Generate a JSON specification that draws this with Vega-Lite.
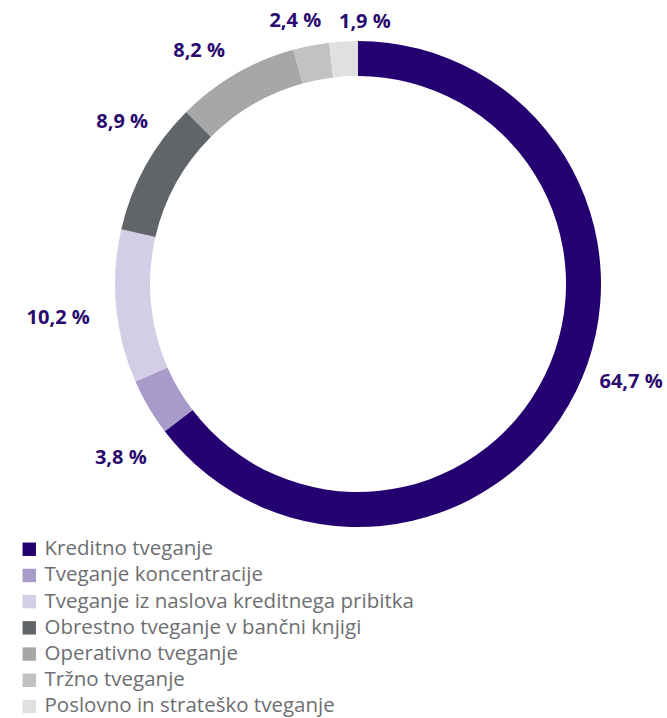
{
  "$schema": "https://vega.github.io/schema/vega-lite/v6.json",
  "width": 716,
  "height": 568,
  "autosize": {"type": "none"},
  "padding": {"left": 0, "top": 0, "right": 0, "bottom": 150},
  "background": "white",
  "config": {"view": {"stroke": null}, "font": "Open Sans"},
  "data": {
    "values": [
      {"order": 1, "category": "Kreditno tveganje", "value": 64.7, "label": "64,7 %"},
      {"order": 2, "category": "Tveganje koncentracije", "value": 3.8, "label": "3,8 %"},
      {"order": 3, "category": "Tveganje iz naslova kreditnega pribitka", "value": 10.2, "label": "10,2 %"},
      {"order": 4, "category": "Obrestno tveganje v bančni knjigi", "value": 8.9, "label": "8,9 %"},
      {"order": 5, "category": "Operativno tveganje", "value": 8.2, "label": "8,2 %"},
      {"order": 6, "category": "Tržno tveganje", "value": 2.4, "label": "2,4 %"},
      {"order": 7, "category": "Poslovno in strateško tveganje", "value": 1.9, "label": "1,9 %"}
    ]
  },
  "encoding": {
    "theta": {"field": "value", "type": "quantitative", "stack": true},
    "order": {"field": "order", "type": "quantitative", "sort": "ascending"}
  },
  "layer": [
    {
      "mark": {"type": "arc", "outerRadius": 243, "innerRadius": 208},
      "encoding": {
        "color": {
          "field": "category",
          "type": "nominal",
          "sort": null,
          "scale": {
            "domain": ["Kreditno tveganje", "Tveganje koncentracije", "Tveganje iz naslova kreditnega pribitka", "Obrestno tveganje v bančni knjigi", "Operativno tveganje", "Tržno tveganje", "Poslovno in strateško tveganje"],
            "range": ["#250070", "#a79bca", "#d4cde6", "#616468", "#a6a7a9", "#c1c2c4", "#e0e0e0"]
          },
          "legend": {
            "title": null,
            "orient": "none",
            "legendX": 19,
            "legendY": 539,
            "symbolType": "square",
            "symbolSize": 180,
            "symbolStrokeWidth": 0,
            "labelFontSize": 20.5,
            "labelColor": "#6d6e71",
            "labelFont": "Open Sans",
            "labelOffset": 5,
            "rowPadding": 5.2,
            "labelLimit": 400
          }
        }
      }
    },
    {
      "mark": {
        "type": "text",
        "radius": 288,
        "fontSize": 20,
        "fontWeight": "bold",
        "font": "Open Sans",
        "color": "#2a0a6e",
        "align": "center",
        "baseline": "middle",
        "dx": {"expr": "datum.order == 1 ? 15 : datum.order == 2 ? 11 : datum.order == 3 ? -13 : datum.order == 4 ? 16 : datum.order == 5 ? -14 : datum.order == 6 ? -7 : 24"},
        "dy": {"expr": "datum.order == 1 ? -30 : datum.order == 2 ? 28 : datum.order == 3 ? 7 : datum.order == 4 ? -22 : datum.order == 5 ? 16 : datum.order == 6 ? 20 : 25"}
      },
      "encoding": {
        "text": {"field": "label", "type": "nominal"}
      }
    }
  ]
}
